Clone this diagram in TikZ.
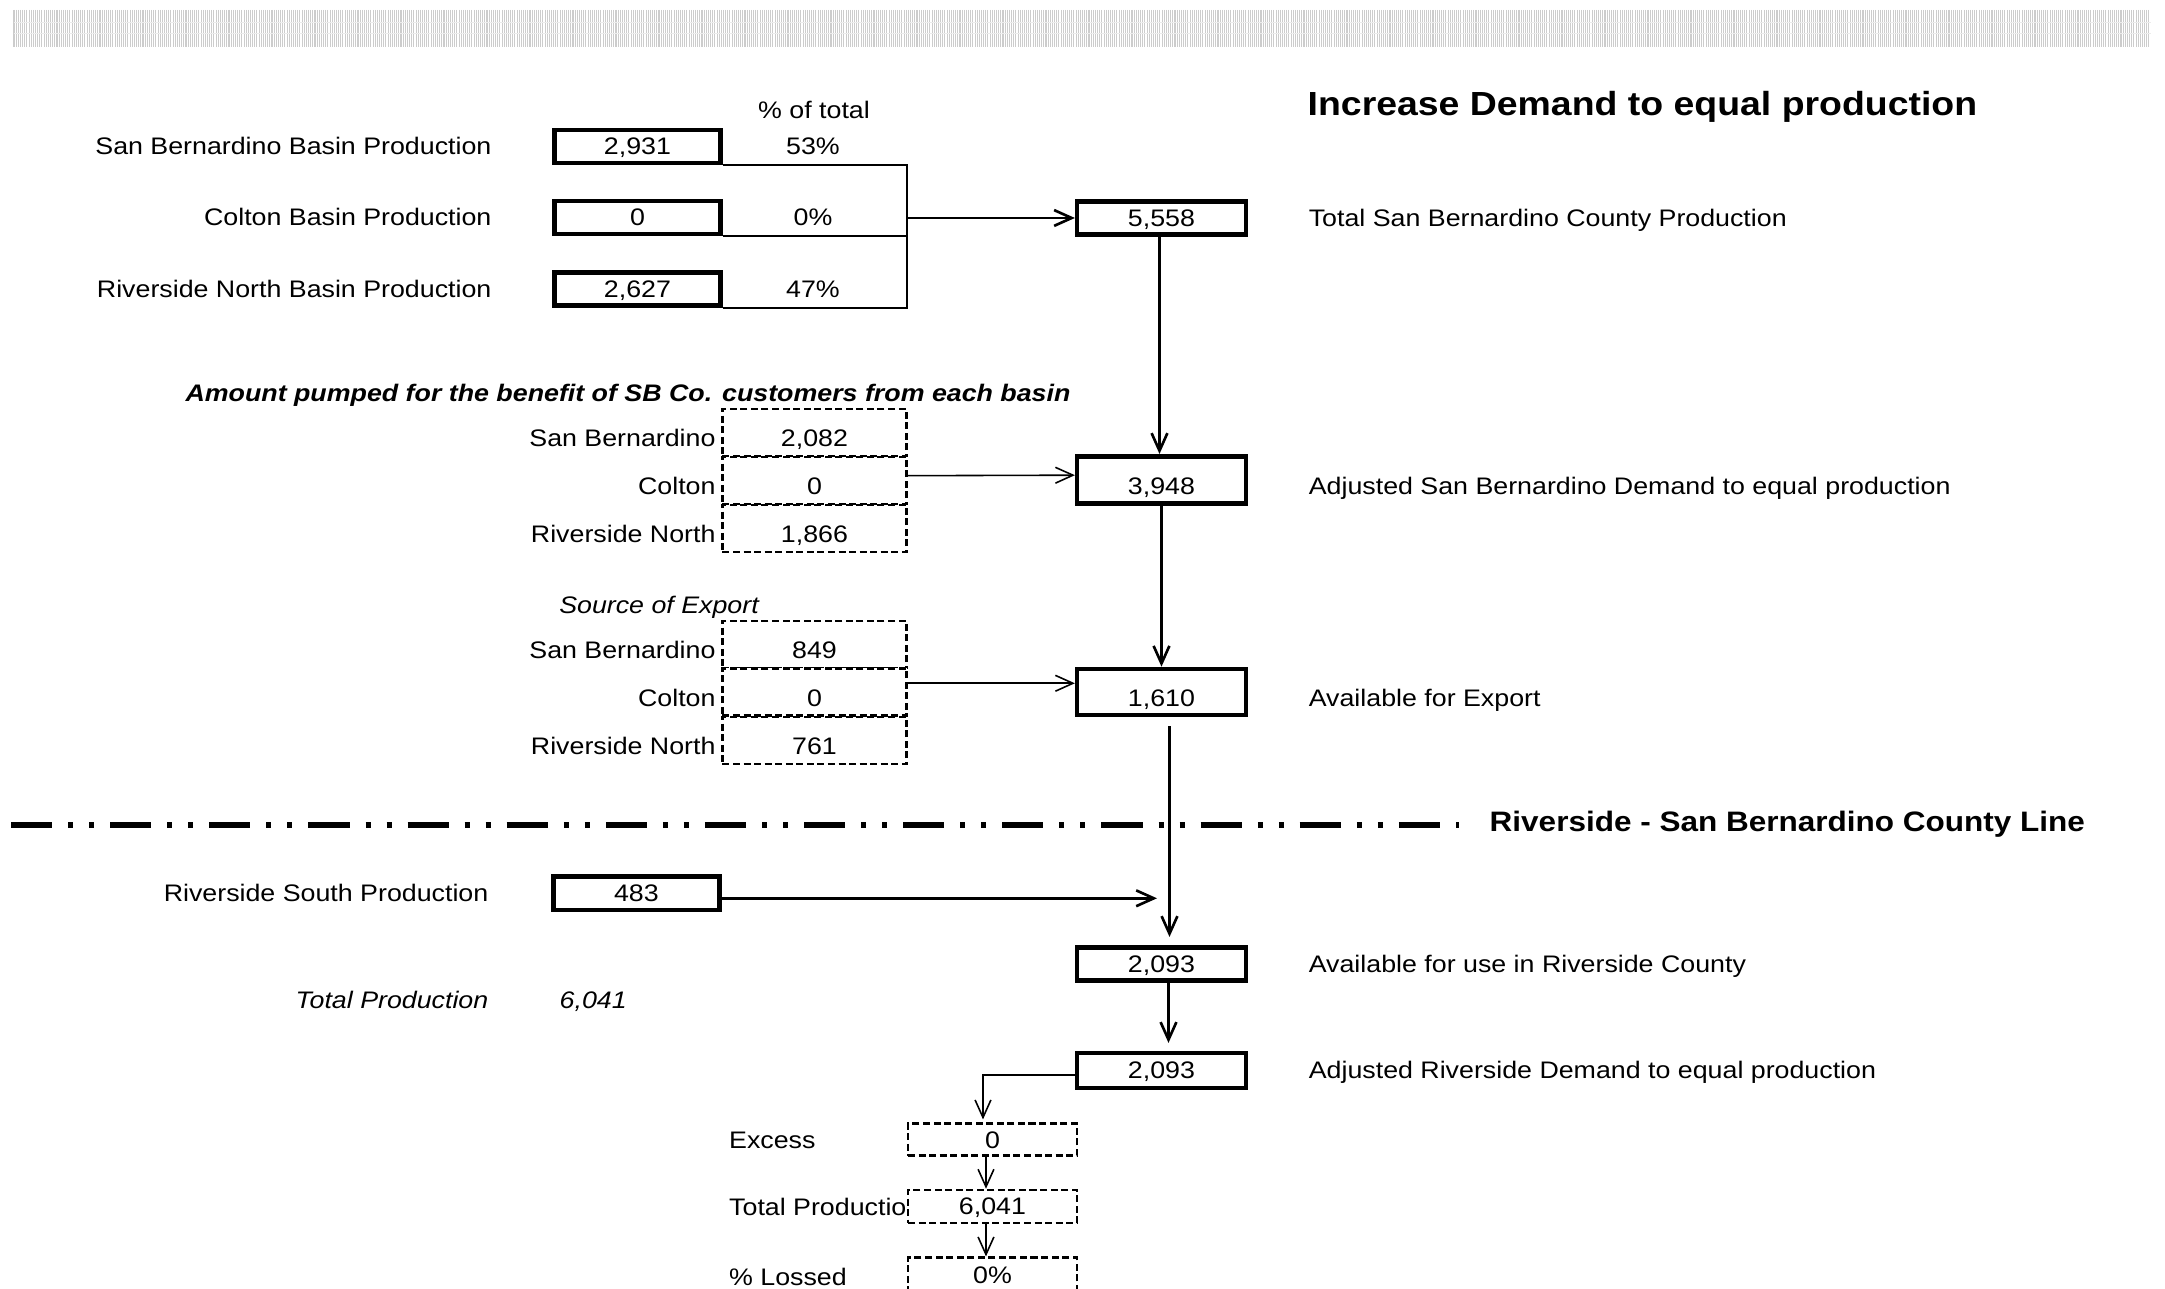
\documentclass[tikz,border=0pt]{standalone}
\usepackage{fontspec}
\setmainfont{Liberation Sans}[FakeStretch=1.12]
\usepackage{tikz}
\usetikzlibrary{arrows.meta,positioning}

\begin{document}
\begin{tikzpicture}[x=0.01cm,y=-0.01cm,>={Straight Barb[length=5pt,width=4.5pt]},
  font=\fontsize{6.8}{8}\selectfont,line cap=butt,
  txt/.style={inner sep=0pt,text height=0.17cm,text depth=0cm},
  low/.style={text height=0.29cm},
  valbox/.style={txt,draw,fill=white,line width=1.3pt,minimum width=1.66cm,minimum height=0.33cm},
  cell/.style={txt,draw,fill=white,line width=0.7pt,dash pattern=on 2pt off 1pt,minimum width=1.84cm,minimum height=0.47cm},
  conn/.style={line width=0.45pt},
  flow/.style={line width=0.75pt,->},
  thinflow/.style={line width=0.45pt,->}]
\useasboundingbox (0,0) rectangle (2165,1289);
\clip (0,0) rectangle (2165,1289);
\foreach \i in {0,...,993}
  \draw[black!20,line width=0.3pt] (14+2.15*\i,10) -- (14+2.15*\i,47);
\draw[black!8,line width=0.25pt] (14,22) -- (2151,22) (14,33) -- (2151,33);

\node[txt] (pct) at (814,110) {\% of total};
\node[txt,text height=0.24cm,anchor=west,font=\fontsize{9.5}{11}\selectfont\bfseries] (title) at (1307,104) {Increase Demand to equal production};

\node[valbox] (sbp) at (637.5,146.5) {2,931};
\node[valbox] (cbp) at (637.5,217.5) {0};
\node[valbox] (rnp) at (637.5,289) {2,627};
\node[txt,left=0.6cm of sbp] (sbpl) {San Bernardino Basin Production};
\node[txt,left=0.6cm of cbp] (cbpl) {Colton Basin Production};
\node[txt,left=0.6cm of rnp] (rnpl) {Riverside North Basin Production};
\node[txt] (sbpct) at (813,146.5) {53\%};
\node[txt] (cbpct) at (813,217.5) {0\%};
\node[txt] (rnpct) at (813,289) {47\%};

\node[valbox,minimum width=1.685cm] (tot) at (1161.5,218) {5,558};
\node[txt,right=0.6cm of tot] (totl) {Total San Bernardino County Production};
\coordinate (jtop) at (907,164.5);
\draw[conn] (sbp.south east) -- (sbp.south east -| jtop) -- (rnp.south east -| jtop) -- (rnp.south east);
\draw[conn] (cbp.south east) -- (cbp.south east -| jtop);
\draw[flow] (jtop |- tot) -- (tot);

\node[txt,font=\fontsize{6.8}{8}\selectfont\bfseries\itshape] (puhead) at (628,393) {Amount pumped for the benefit of SB Co. customers from each basin};
\node[cell,low] (pu1) at (814.5,432.5) {2,082};
\node[cell,low] (pu2) at (814.5,480.5) {0};
\node[cell,low] (pu3) at (814.5,528.5) {1,866};
\node[txt,low,left=0.05cm of pu1] (pu1l) {San Bernardino};
\node[txt,low,left=0.05cm of pu2] (pu2l) {Colton};
\node[txt,low,left=0.05cm of pu3] (pu3l) {Riverside North};

\node[valbox,low,minimum width=1.685cm,minimum height=0.475cm] (adj) at (1161.5,480) {3,948};
\node[txt,low,right=0.6cm of adj] (adjl) {Adjusted San Bernardino Demand to equal production};
\draw[flow] ([xshift=-0.02cm]tot.south) -- ([xshift=-0.02cm]adj.north);
\draw[thinflow] ([yshift=0.048cm]pu2.east) -- ([yshift=0.048cm]adj.west);

\node[txt,font=\fontsize{6.8}{8}\selectfont\itshape] (exhead) at (659,605) {Source of Export};
\node[cell,low] (ex1) at (814.5,644.5) {849};
\node[cell,low] (ex2) at (814.5,692) {0};
\node[cell,low] (ex3) at (814.5,740.5) {761};
\node[txt,low,left=0.05cm of ex1] (ex1l) {San Bernardino};
\node[txt,low,left=0.05cm of ex2] (ex2l) {Colton};
\node[txt,low,left=0.05cm of ex3] (ex3l) {Riverside North};

\node[valbox,low,minimum width=1.685cm,minimum height=0.46cm] (avail) at (1161.5,692) {1,610};
\node[txt,low,right=0.6cm of avail] (availl) {Available for Export};
\draw[flow] (adj) -- (avail);
\draw[thinflow] ([yshift=0.087cm]ex2.east) -- ([yshift=0.087cm]avail.west);

\coordinate (lnstart) at (11,825);
\coordinate (lnend) at (1459,825);
\draw[line width=1.5pt,dash pattern=on 11.7pt off 4.55pt on 1.42pt off 4.55pt on 1.42pt off 4.55pt] (lnstart) -- (lnend);
\node[txt,text height=0.2cm,anchor=west,font=\fontsize{8}{10}\selectfont\bfseries] (county) at (1489,822) {Riverside - San Bernardino County Line};

\node[valbox] (rsp) at (636.4,893.3) {483};
\node[txt,left=0.62cm of rsp] (rspl) {Riverside South Production};
\coordinate (rspend) at (1157,898.3);
\draw[flow] (rsp.east |- rspend) -- (rspend);

\node[valbox,minimum width=1.685cm,minimum height=0.335cm] (riv) at (1161.5,964) {2,093};
\node[txt,right=0.6cm of riv] (rivl) {Available for use in Riverside County};
\draw[flow,shorten <=0.09cm,shorten >=0.08cm] ([xshift=0.08cm]avail.south) -- ([xshift=0.08cm]riv.north);

\node[txt,anchor=east,font=\fontsize{6.8}{8}\selectfont\itshape] (tpl) at (489,999.6) {Total Production};
\node[txt,anchor=west,font=\fontsize{6.8}{8}\selectfont\itshape] (tpv) at (559,999.6) {6,041};

\node[valbox,minimum width=1.685cm,minimum height=0.35cm] (radj) at (1161.5,1070.4) {2,093};
\node[txt,right=0.6cm of radj] (radjl) {Adjusted Riverside Demand to equal production};
\draw[flow,shorten >=0.077cm] ([xshift=0.07cm]riv.south) -- ([xshift=0.07cm]radj.north);

\node[txt,anchor=west] (excl) at (728.5,1140) {Excess};
\node[txt,anchor=west] (tpbl) at (728.5,1206.7) {Total Productio};
\node[txt,anchor=west] (lsbl) at (728.5,1276.7) {\% Lossed};
\node[cell,minimum width=1.69cm,minimum height=0.32cm] (exc) at (992.5,1139.7) {0};
\node[cell,minimum width=1.69cm,minimum height=0.33cm] (tpb) at (992.5,1206.5) {6,041};
\node[cell,minimum width=1.69cm,minimum height=0.34cm] (lsb) at (992.5,1274.7) {0\%};
\draw[thinflow,shorten >=0.03cm] ([yshift=-0.047cm]radj.west) -| ([xshift=-0.095cm]exc.north);
\draw[thinflow] ([xshift=-0.065cm]exc.south) -- ([xshift=-0.065cm]tpb.north);
\draw[thinflow] ([xshift=-0.065cm]tpb.south) -- ([xshift=-0.065cm]lsb.north);
\end{tikzpicture}
\end{document}
